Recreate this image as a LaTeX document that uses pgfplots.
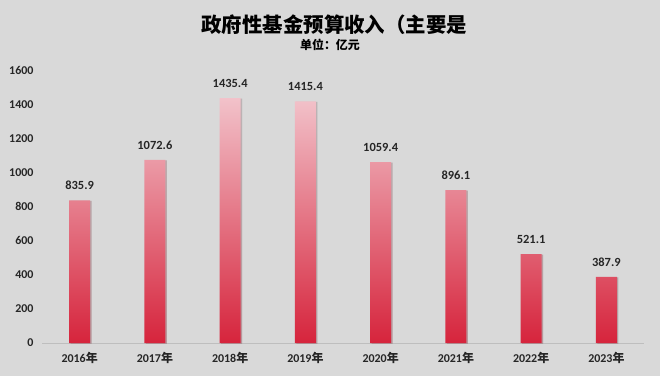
\documentclass[border=0pt]{standalone}
\usepackage{pgfplots}
\pgfplotsset{compat=1.18}
\usepackage{fontspec}
\setmainfont{Carlito}
\newfontfamily\cjk{Noto Sans CJK SC}
\usetikzlibrary{shadows}
\definecolor{bg}{RGB}{217,217,217}
\definecolor{bartop}{RGB}{242,194,202}
\definecolor{barbot}{RGB}{214,36,60}
\definecolor{axisgray}{RGB}{190,190,190}
\begin{document}
\begin{tikzpicture}[x=1bp,y=1bp]
\fill[bg] (0,0) rectangle (660,376);
\begin{axis}[
  at={(42bp,33bp)}, anchor=south west,
  scale only axis, width=602bp, height=273bp,
  xmin=-0.5, xmax=7.5, ymin=0, ymax=1600,
  clip=false,
  axis x line=bottom, axis y line=left,
  x axis line style={draw=axisgray, line width=0.8bp, -},
  y axis line style={draw=none},
  major tick length=0pt,
  ytick={0,200,400,600,800,1000,1200,1400,1600},
  xtick=data,
  xticklabels={2016{\cjk 年},2017{\cjk 年},2018{\cjk 年},2019{\cjk 年},2020{\cjk 年},2021{\cjk 年},2022{\cjk 年},2023{\cjk 年}},
  /pgf/number format/assume math mode=true,
  /pgf/number format/1000 sep={},
  yticklabel style={font=\fontsize{12}{14}\selectfont\bfseries, text=black!85, xshift=-5bp},
  xticklabel style={font=\fontsize{12}{14}\selectfont\bfseries, text=black!85, yshift=-6bp},
  ybar, bar width=21bp,
  nodes near coords,
  nodes near coords style={font=\fontsize{12.5}{14}\selectfont\bfseries, text=black!85, yshift=7bp,
    /pgf/number format/fixed, /pgf/number format/fixed zerofill, /pgf/number format/precision=1},
]
\addplot[draw=none, top color=bartop, bottom color=barbot,
  drop shadow={shadow xshift=1.5bp, shadow yshift=-0.5bp, fill=black, opacity=0.18}]
  coordinates {(0,835.9) (1,1072.6) (2,1435.4) (3,1415.4) (4,1059.4) (5,896.1) (6,521.1) (7,387.9)};
\end{axis}
\node[anchor=west] at (198,376-25) {\cjk\bfseries\fontsize{20.5}{24}\selectfont 政府性基金预算收入（主要是};
\node at (330,376-45) {\cjk\bfseries\fontsize{12}{14}\selectfont 单位：亿元};
\pgfresetboundingbox
\useasboundingbox (0,0) rectangle (660,376);
\end{tikzpicture}
\end{document}
